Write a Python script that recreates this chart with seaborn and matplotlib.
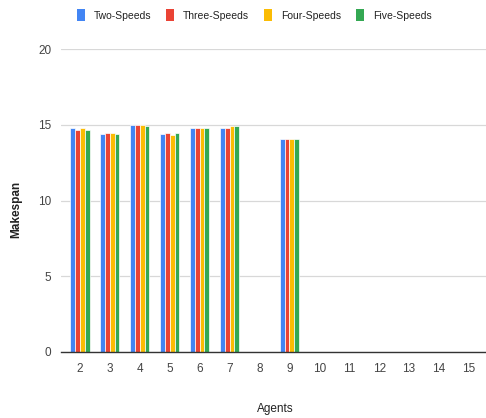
import matplotlib
matplotlib.use("Agg")
import matplotlib.pyplot as plt
import seaborn as sns
import pandas as pd
from matplotlib.patches import Patch

agents = ["2", "3", "4", "5", "6", "7", "8", "9", "10", "11", "12", "13", "14", "15"]
series = ["Two-Speeds", "Three-Speeds", "Four-Speeds", "Five-Speeds"]
two_speeds = [14.77, 14.37, 15.0, 14.37, 14.77, 14.77, None, 14.03, None, None, None, None, None, None]
three_speeds = [14.65, 14.43, 15.0, 14.43, 14.77, 14.77, None, 14.03, None, None, None, None, None, None]
four_speeds = [14.77, 14.43, 15.0, 14.35, 14.77, 14.92, None, 14.03, None, None, None, None, None, None]
five_speeds = [14.67, 14.37, 14.92, 14.43, 14.77, 14.92, None, 14.03, None, None, None, None, None, None]
colors = ["#4285F4", "#EA4335", "#FBBC04", "#34A853"]

rows = []
for name, vals in zip(series, [two_speeds, three_speeds, four_speeds, five_speeds]):
    for a, v in zip(agents, vals):
        if v is not None:
            rows.append({"Agents": a, "Makespan": v, "Series": name})
df = pd.DataFrame(rows)

sns.set_theme(style="white")
plt.rcParams["font.family"] = ["Liberation Sans", "DejaVu Sans"]

fig = plt.figure(figsize=(4.86, 4.18), dpi=100)
ax = fig.add_axes([61 / 486, 66 / 418, 425 / 486, 303 / 418])

sns.barplot(data=df, x="Agents", y="Makespan", hue="Series", order=agents,
            hue_order=series, palette=colors, saturation=1, width=0.64, ax=ax,
            edgecolor="white", linewidth=0.5, legend=False, errorbar=None)

ax.set_ylim(0, 20)
ax.set_xlim(-0.635, 13.57)
ax.set_yticks([0, 5, 10, 15, 20])
ax.grid(axis="y", color="#d8d8d8", linewidth=0.9, zorder=0)
ax.set_axisbelow(True)
for s in ["top", "right", "left"]:
    ax.spines[s].set_visible(False)
ax.spines["bottom"].set_color("#333333")
ax.spines["bottom"].set_linewidth(1.0)
ax.tick_params(axis="both", length=0, labelsize=8.5, colors="#444444", pad=8)
ax.tick_params(axis="y", pad=7)

ax.set_xlabel("Agents", fontsize=8.5, color="#222222")
ax.set_ylabel("Makespan", fontsize=8.5, color="#222222", fontweight="bold")
ax.xaxis.set_label_coords(0.504, -0.168)
ax.yaxis.set_label_coords(-0.092, 0.472)

handles = [Patch(facecolor=c, edgecolor="none") for c in colors]
fig.legend(handles, series, loc="upper center", bbox_to_anchor=(0.523, 1.0), ncol=4,
           frameon=False, fontsize=7.5, handlelength=0.77, handleheight=1.3,
           handletextpad=0.87, columnspacing=1.4, labelcolor="#222222")

fig.savefig("out.png", dpi=100)
